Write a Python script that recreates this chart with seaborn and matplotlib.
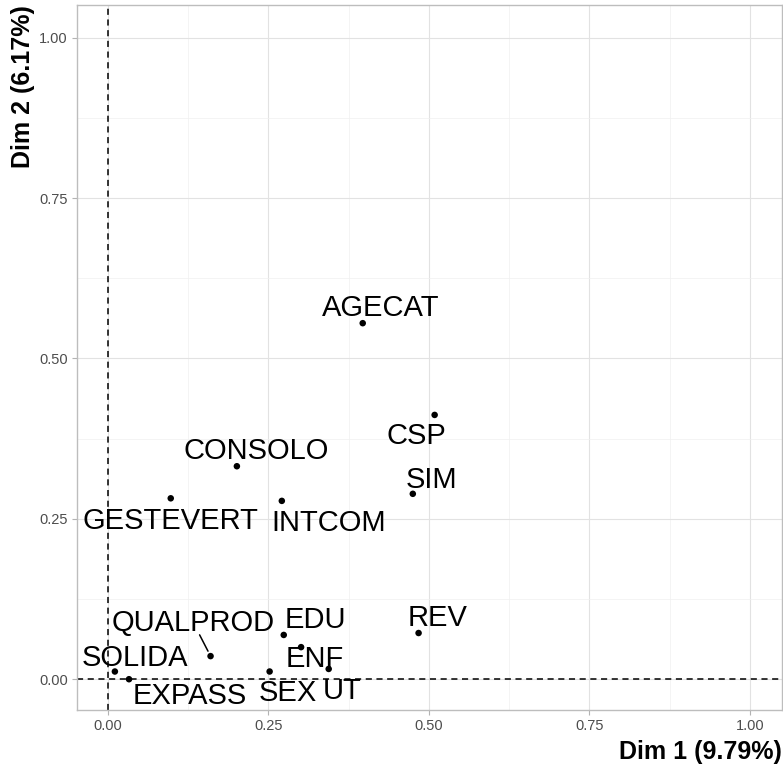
import matplotlib
matplotlib.use("Agg")
import matplotlib.pyplot as plt
import seaborn as sns
import pandas as pd
from matplotlib.ticker import MultipleLocator

# Variable coordinates on the first two dimensions
variables = ["AGECAT", "CSP", "SIM", "CONSOLO", "GESTEVERT", "INTCOM", "REV",
             "EDU", "ENF", "QUALPROD", "SOLIDA", "EXPASS", "SEX", "UT"]
dim1 = [0.397, 0.509, 0.475, 0.201, 0.098, 0.271, 0.484,
        0.274, 0.301, 0.160, 0.011, 0.033, 0.252, 0.344]
dim2 = [0.555, 0.412, 0.289, 0.332, 0.282, 0.278, 0.072,
        0.069, 0.050, 0.036, 0.012, 0.000, 0.012, 0.016]

# label offsets in pixels (repel layout), and which labels get a segment
label_dx = [18, -18, 19, 19, 0, 47, 19, 32, 14, -17, 20, 61, 18, 13]
label_dy = [15, -21, 14, 15, -23, -22, 15, 15, -12, 33, 14, -17, -21, -22]
segment = [False] * 9 + [True] + [False] * 4

df = pd.DataFrame({"var": variables, "dim1": dim1, "dim2": dim2})

sns.set_theme(style="white")
plt.rcParams["font.family"] = ["Liberation Sans", "DejaVu Sans"]

fig = plt.figure(figsize=(7.83, 7.65), dpi=100)
ax = fig.add_axes([77 / 783, 1 - 710 / 765, 705 / 783, 705 / 765])

ax.xaxis.set_major_locator(MultipleLocator(0.25))
ax.yaxis.set_major_locator(MultipleLocator(0.25))
ax.xaxis.set_minor_locator(MultipleLocator(0.125))
ax.yaxis.set_minor_locator(MultipleLocator(0.125))
ax.grid(which="major", color="#E2E2E2", linewidth=0.8)
ax.grid(which="minor", color="#F0F0F0", linewidth=0.5)
ax.set_axisbelow(True)

ax.axhline(0, color="black", linestyle=(0, (4, 3)), linewidth=1.1, zorder=2)
ax.axvline(0, color="black", linestyle=(0, (4, 3)), linewidth=1.1, zorder=2)

sns.scatterplot(data=df, x="dim1", y="dim2", color="black", s=22,
                edgecolor="none", ax=ax, zorder=3)

for name, x, y, dx, dy, seg in zip(variables, dim1, dim2, label_dx, label_dy, segment):
    arrow = None
    if seg:
        # segment from just under the label to the point (ggrepel style)
        arrow = dict(arrowstyle="-", color="black", lw=1.1, patchA=None,
                     shrinkA=9.5, shrinkB=4)
    ax.annotate(name, (x, y), xytext=(dx * 0.72, dy * 0.72),
                textcoords="offset points", ha="center", va="center",
                fontsize=21, color="black", arrowprops=arrow, zorder=4)

ax.set_xlim(-0.048, 1.05)
ax.set_ylim(-0.048, 1.051)
ax.set_xticks([0, 0.25, 0.5, 0.75, 1.0])
ax.set_yticks([0, 0.25, 0.5, 0.75, 1.0])
ax.set_xticklabels(["0.00", "0.25", "0.50", "0.75", "1.00"])
ax.set_yticklabels(["0.00", "0.25", "0.50", "0.75", "1.00"])
ax.tick_params(axis="both", which="major", labelsize=10.5, labelcolor="#4D4D4D",
               color="#B3B3B3", length=3.5, width=0.8, pad=3, bottom=True, left=True)
ax.tick_params(which="minor", length=0)

for sp in ax.spines.values():
    sp.set_color("#BDBDBD")
    sp.set_linewidth(1.0)

ax.set_xlabel("Dim 1 (9.79%)", loc="right", fontsize=18, fontweight="bold",
              color="black", labelpad=5)
ax.set_ylabel("Dim 2 (6.17%)", loc="top", fontsize=18, fontweight="bold",
              color="black", labelpad=3)

fig.savefig("out.png", dpi=100)
